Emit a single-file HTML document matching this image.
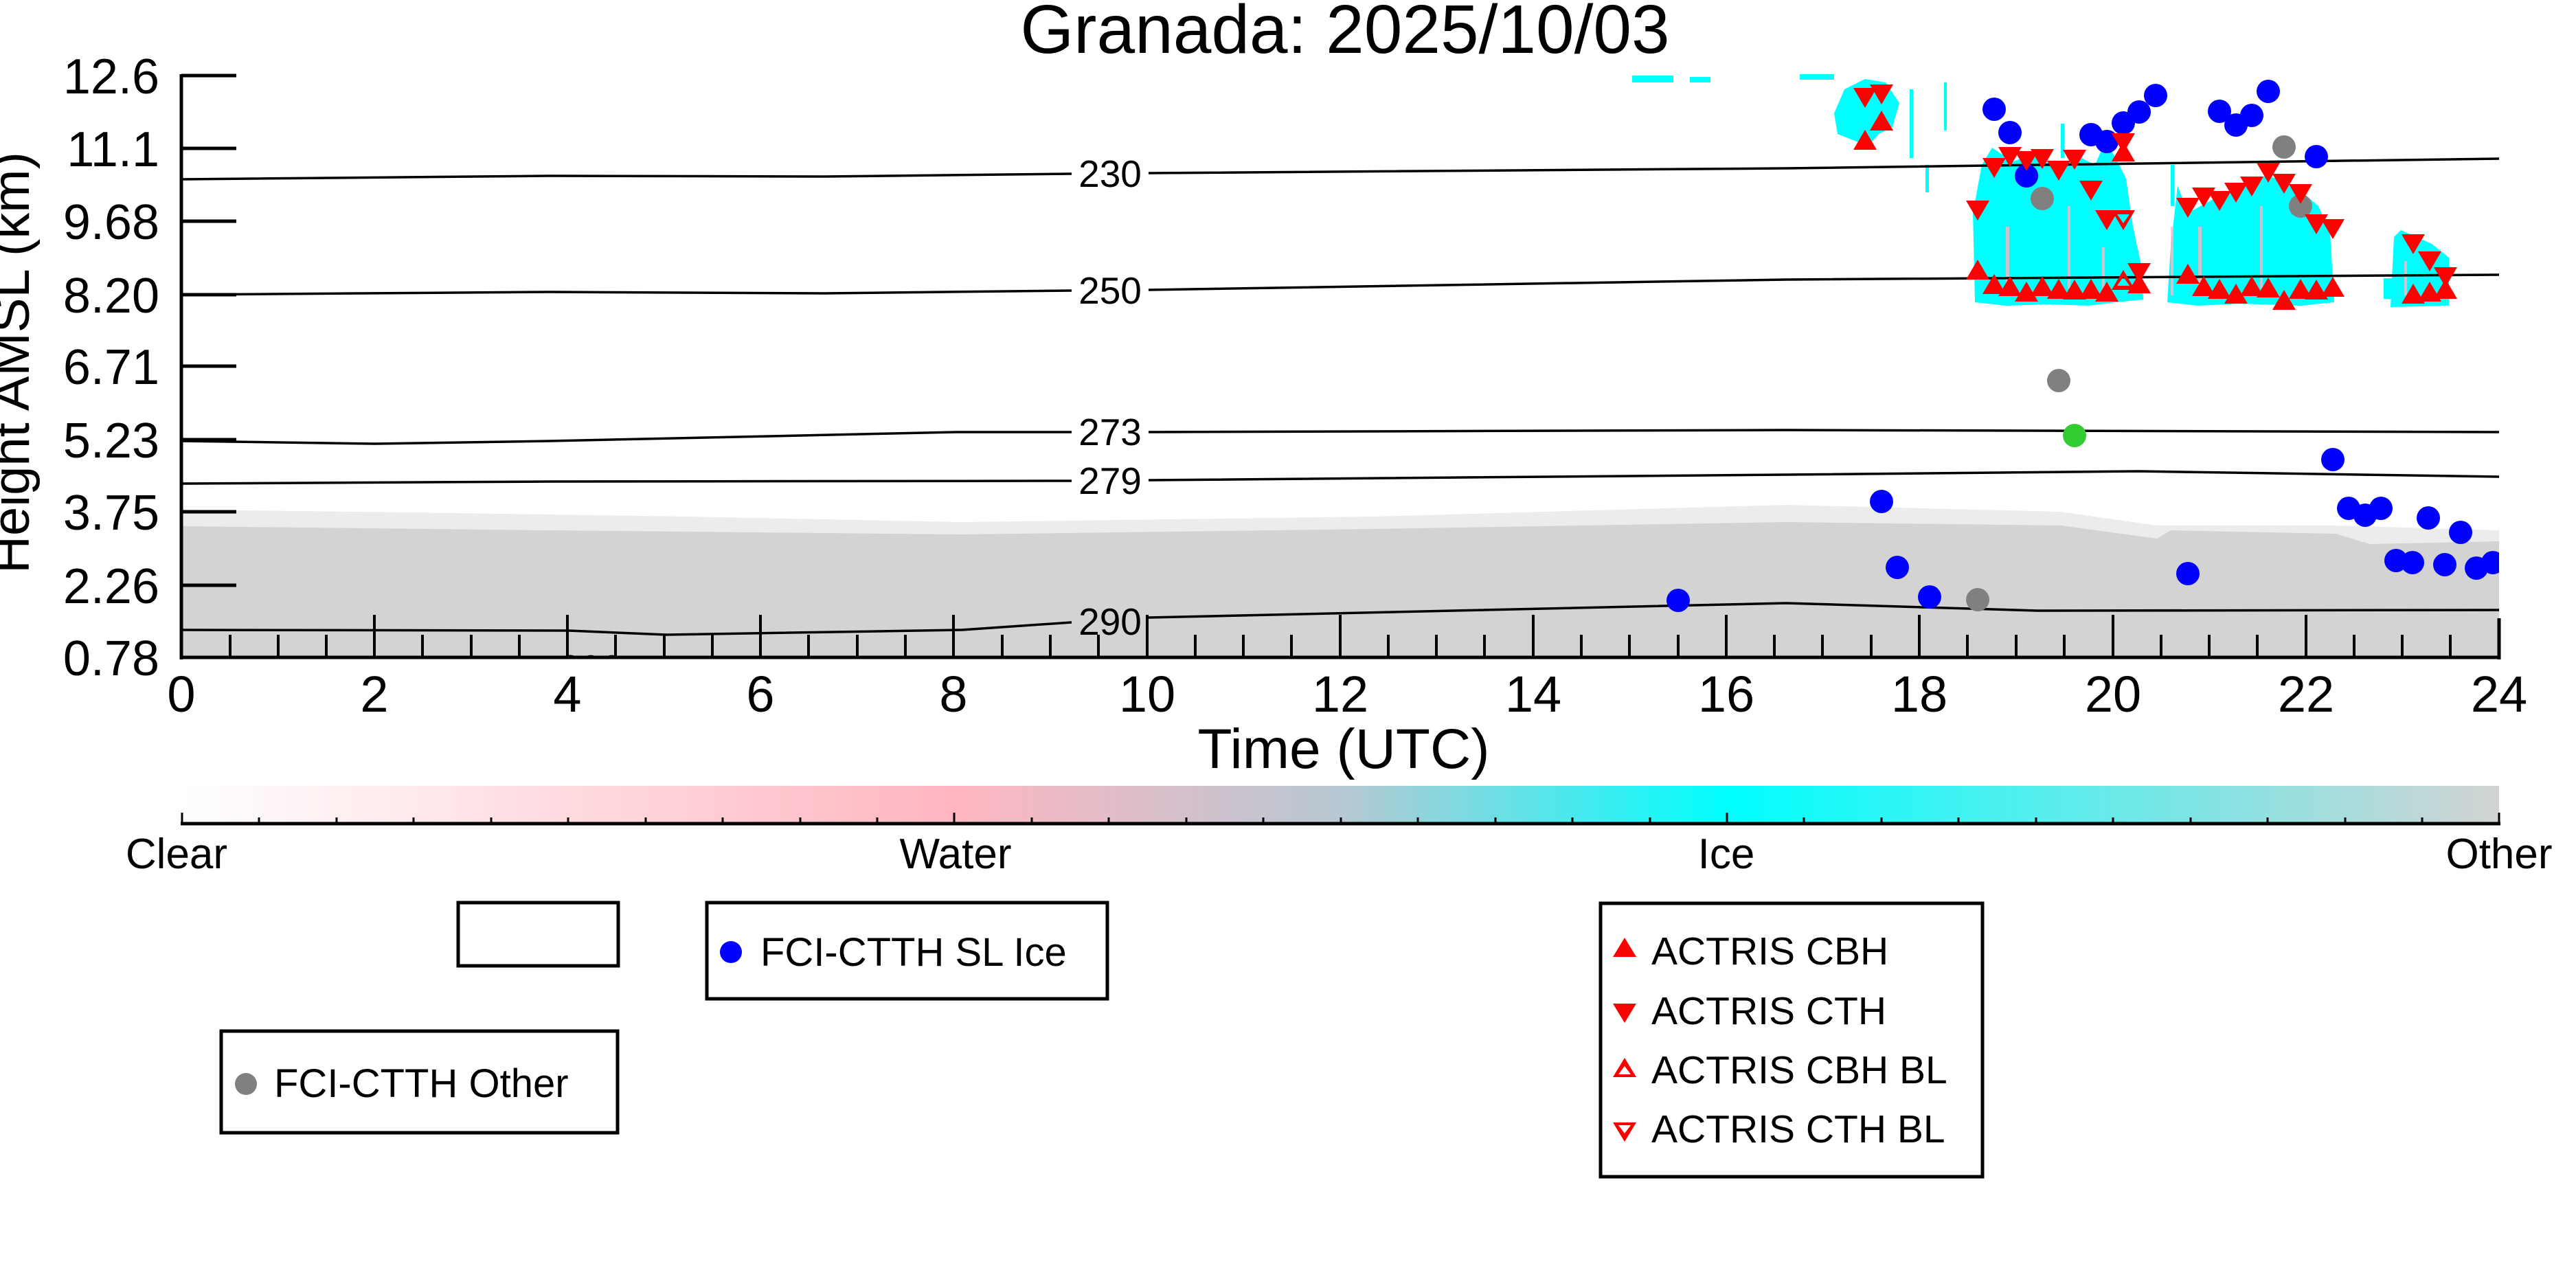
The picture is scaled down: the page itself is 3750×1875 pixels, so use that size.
<!DOCTYPE html>
<html><head><meta charset="utf-8"><style>
html,body{margin:0;padding:0;background:#fff;}
svg{display:block;font-family:"Liberation Sans","DejaVu Sans",sans-serif;}
</style></head><body>
<svg width="3750" height="1875" viewBox="0 0 3750 1875" xmlns="http://www.w3.org/2000/svg">
<defs>
<path id="up" d="M0,-17 L17,12 L-17,12Z" fill="#ff0000"/>
<path id="dn" d="M0,17 L17,-12 L-17,-12Z" fill="#ff0000"/>
<linearGradient id="cb" x1="0" x2="1" y1="0" y2="0">
<stop offset="0" stop-color="#ffffff"/>
<stop offset="0.333" stop-color="#ffb6c1"/>
<stop offset="0.5" stop-color="#b7c8d2"/>
<stop offset="0.667" stop-color="#00ffff"/>
<stop offset="1" stop-color="#d3d3d3"/>
</linearGradient>
<clipPath id="pc"><rect x="264" y="100" width="3374" height="857"/></clipPath>
</defs>
<rect width="3750" height="1875" fill="#fff"/>
<text x="1958" y="77" font-size="100" text-anchor="middle">Granada: 2025/10/03</text>

<g clip-path="url(#pc)">
<path d="M264,742 L600,746 L1000,752 L1400,760 L2000,752 L2600,735 L3000,745 L3140,765 L3400,765 L3638,772 L3638,957 L264,957Z" fill="#ececec"/>
<path d="M264,766 L800,772 L1400,778 L2000,770 L2600,760 L3000,765 L3140,784 L3160,772 L3400,777 L3450,792 L3638,788 L3638,957 L264,957Z" fill="#d3d3d3"/>
<g fill="#00ffff">
<polygon points="2685,130 2715,115 2745,120 2765,150 2755,185 2735,195 2720,212 2700,205 2675,195 2670,165"/>
<polygon points="2872,310 2885,240 2900,215 2930,235 2960,225 2990,240 3030,230 3050,240 3065,205 3080,230 3095,260 3105,330 3118,390 3120,436 3080,440 3040,445 2980,443 2920,445 2875,440"/>
<polygon points="3160,360 3170,270 3185,310 3240,280 3300,255 3340,270 3375,300 3392,340 3398,440 3350,445 3260,442 3200,445 3155,440"/>
<polygon points="3485,345 3495,335 3540,355 3565,375 3565,445 3480,447"/>
<rect x="2376" y="110" width="60" height="10"/>
<rect x="2460" y="112" width="30" height="8"/>
<rect x="2620" y="108" width="50" height="8"/>
<rect x="2780" y="130" width="5" height="100"/>
<rect x="2830" y="120" width="4" height="70"/>
<rect x="2803" y="240" width="5" height="40"/>
<rect x="3000" y="180" width="5" height="50"/>
<rect x="3160" y="240" width="5" height="60"/>
<rect x="3470" y="405" width="20" height="30"/>
</g>
<g fill="#ffb6c1" opacity="0.8">
<rect x="2920" y="330" width="5" height="100"/>
<rect x="3010" y="300" width="4" height="120"/>
<rect x="3060" y="360" width="4" height="70"/>
<rect x="3200" y="330" width="5" height="90"/>
<rect x="3290" y="300" width="4" height="120"/>
<rect x="3160" y="330" width="4" height="100"/>
<rect x="3500" y="380" width="4" height="50"/>
</g>
<g fill="none" stroke="#000" stroke-width="3.5">
<polyline points="264,261 800,256 1200,257 1560,253"/>
<polyline points="1672,252 2600,245 3638,231"/>
<polyline points="264,429 800,425 1200,427 1560,423"/>
<polyline points="1672,422 2600,407 3638,400"/>
<polyline points="264,642 546,646 800,642 1392,629 1560,629"/>
<polyline points="1672,629 2600,626 3638,629"/>
<polyline points="264,704 800,701 1560,700"/>
<polyline points="1672,699 2600,691 3113,686 3638,694"/>
<polyline points="264,917 828,918 970,924 1400,917 1560,906"/>
<polyline points="1672,899 2600,878 2966,889 3638,888"/>
</g>
<g font-size="55" text-anchor="middle">
<text x="1616" y="272">230</text>
<text x="1616" y="442">250</text>
<text x="1616" y="648">273</text>
<text x="1616" y="719">279</text>
<text x="1616" y="924">290</text>
<text x="860" y="992">290</text>
</g>
<g fill="#0000ff">
<circle cx="2903" cy="159" r="17"/><circle cx="2926" cy="193" r="17"/><circle cx="2950" cy="256" r="17"/>
<circle cx="3044" cy="196" r="17"/><circle cx="3067" cy="206" r="17"/><circle cx="3091" cy="179" r="17"/>
<circle cx="3114" cy="163" r="17"/><circle cx="3138" cy="139" r="17"/><circle cx="3231" cy="162" r="17"/>
<circle cx="3255" cy="182" r="17"/><circle cx="3278" cy="168" r="17"/><circle cx="3302" cy="133" r="17"/>
<circle cx="3372" cy="228" r="17"/><circle cx="3396" cy="669" r="17"/><circle cx="3419" cy="740" r="17"/>
<circle cx="3443" cy="750" r="17"/><circle cx="3466" cy="740" r="17"/><circle cx="3535" cy="754" r="17"/>
<circle cx="3582" cy="775" r="17"/><circle cx="3488" cy="816" r="17"/><circle cx="3512" cy="819" r="17"/>
<circle cx="3559" cy="822" r="17"/><circle cx="3605" cy="827" r="17"/><circle cx="3629" cy="819" r="17"/>
<circle cx="2739" cy="730" r="17"/><circle cx="2762" cy="826" r="17"/><circle cx="2809" cy="869" r="17"/>
<circle cx="3185" cy="835" r="17"/><circle cx="2443" cy="874" r="17"/>
</g>
<g fill="#808080">
<circle cx="2973" cy="289" r="17"/><circle cx="3325" cy="214" r="17"/><circle cx="3349" cy="300" r="17"/>
<circle cx="2997" cy="554" r="17"/><circle cx="2879" cy="873" r="17"/>
</g>
<circle cx="3020" cy="634" r="17" fill="#33cc33"/>
<use href="#up" x="2715" y="206"/><use href="#up" x="2739" y="178"/><use href="#up" x="2879" y="395"/>
<use href="#up" x="2903" y="416"/><use href="#up" x="2926" y="419"/><use href="#up" x="2950" y="427"/>
<use href="#up" x="2973" y="419"/><use href="#up" x="2997" y="423"/><use href="#up" x="3020" y="424"/>
<use href="#up" x="3044" y="423"/><use href="#up" x="3067" y="427"/><use href="#up" x="3114" y="415"/>
<use href="#up" x="3091" y="223"/>
<use href="#up" x="3185" y="401"/><use href="#up" x="3208" y="419"/><use href="#up" x="3231" y="423"/>
<use href="#up" x="3255" y="430"/><use href="#up" x="3278" y="419"/><use href="#up" x="3302" y="421"/>
<use href="#up" x="3325" y="439"/><use href="#up" x="3349" y="423"/><use href="#up" x="3372" y="424"/>
<use href="#up" x="3396" y="420"/><use href="#up" x="3513" y="430"/><use href="#up" x="3537" y="427"/>
<use href="#up" x="3560" y="423"/>
<use href="#dn" x="2715" y="140"/><use href="#dn" x="2739" y="135"/><use href="#dn" x="2903" y="242"/>
<use href="#dn" x="2926" y="226"/><use href="#dn" x="2950" y="232"/><use href="#dn" x="2973" y="229"/>
<use href="#dn" x="2997" y="246"/><use href="#dn" x="3020" y="230"/><use href="#dn" x="3044" y="275"/>
<use href="#dn" x="3067" y="318"/><use href="#dn" x="3091" y="206"/><use href="#dn" x="3114" y="395"/>
<use href="#dn" x="2879" y="304"/><use href="#dn" x="3185" y="300"/><use href="#dn" x="3208" y="285"/>
<use href="#dn" x="3231" y="290"/><use href="#dn" x="3255" y="278"/><use href="#dn" x="3278" y="269"/>
<use href="#dn" x="3302" y="249"/><use href="#dn" x="3325" y="265"/><use href="#dn" x="3349" y="280"/>
<use href="#dn" x="3372" y="324"/><use href="#dn" x="3396" y="331"/><use href="#dn" x="3513" y="353"/>
<use href="#dn" x="3537" y="378"/><use href="#dn" x="3560" y="401"/>
<path d="M3091,393 L3108,422 L3074,422Z M3091,403 L3100,416 L3082,416Z" fill="#ff0000" fill-rule="evenodd"/>
<path d="M3091,335 L3108,306 L3074,306Z M3091,325 L3100,312 L3082,312Z" fill="#ff0000" fill-rule="evenodd"/>
</g>

<g stroke="#000" stroke-width="5" fill="none">
<line x1="264" y1="108" x2="264" y2="960"/>
<line x1="262" y1="957" x2="3640" y2="957"/>
<line x1="3638" y1="900" x2="3638" y2="960"/>
</g>
<g stroke="#000" stroke-width="5">
<line x1="264" y1="110" x2="344" y2="110"/>
<line x1="264" y1="216" x2="344" y2="216"/>
<line x1="264" y1="322" x2="344" y2="322"/>
<line x1="264" y1="429" x2="344" y2="429"/>
<line x1="264" y1="533" x2="344" y2="533"/>
<line x1="264" y1="640" x2="344" y2="640"/>
<line x1="264" y1="745" x2="344" y2="745"/>
<line x1="264" y1="852" x2="344" y2="852"/>
</g>
<g stroke="#000" stroke-width="4">
<path d="M545,895V957 M826,895V957 M1107,895V957 M1388,895V957 M1670,895V957 M1951,895V957 M2232,895V957 M2513,895V957 M2794,895V957 M3076,895V957 M3357,895V957"/>
<path d="M335,924V957 M405,924V957 M475,924V957 M615,924V957 M686,924V957 M756,924V957 M896,924V957 M967,924V957 M1037,924V957 M1177,924V957 M1248,924V957 M1318,924V957 M1459,924V957 M1529,924V957 M1599,924V957 M1740,924V957 M1810,924V957 M1880,924V957 M2021,924V957 M2091,924V957 M2161,924V957 M2302,924V957 M2372,924V957 M2443,924V957 M2583,924V957 M2653,924V957 M2724,924V957 M2864,924V957 M2935,924V957 M3005,924V957 M3146,924V957 M3216,924V957 M3286,924V957 M3427,924V957 M3497,924V957 M3567,924V957"/>
</g>
<g font-size="72" text-anchor="end">
<text x="232" y="136">12.6</text>
<text x="232" y="242">11.1</text>
<text x="232" y="348">9.68</text>
<text x="232" y="455">8.20</text>
<text x="232" y="559">6.71</text>
<text x="232" y="666">5.23</text>
<text x="232" y="771">3.75</text>
<text x="232" y="878">2.26</text>
<text x="232" y="983">0.78</text>
</g>
<g font-size="74" text-anchor="middle">
<text x="264" y="1036">0</text><text x="545" y="1036">2</text><text x="826" y="1036">4</text>
<text x="1107" y="1036">6</text><text x="1388" y="1036">8</text><text x="1670" y="1036">10</text>
<text x="1951" y="1036">12</text><text x="2232" y="1036">14</text><text x="2513" y="1036">16</text>
<text x="2794" y="1036">18</text><text x="3076" y="1036">20</text><text x="3357" y="1036">22</text>
<text x="3638" y="1036">24</text>
</g>
<text x="1956" y="1118" font-size="82" text-anchor="middle">Time (UTC)</text>
<text transform="translate(42,528) rotate(-90)" font-size="76" text-anchor="middle">Height AMSL (km)</text>

<rect x="265" y="1144" width="3373" height="54" fill="url(#cb)"/>
<line x1="263" y1="1199" x2="3640" y2="1199" stroke="#000" stroke-width="5"/>
<g stroke="#000" stroke-width="3">
<path d="M265,1183V1199 M1389,1183V1199 M2514,1183V1199 M3638,1183V1199"/>
<path d="M377,1190V1199 M490,1190V1199 M602,1190V1199 M715,1190V1199 M827,1190V1199 M940,1190V1199 M1052,1190V1199 M1165,1190V1199 M1277,1190V1199 M1502,1190V1199 M1614,1190V1199 M1727,1190V1199 M1839,1190V1199 M1952,1190V1199 M2064,1190V1199 M2177,1190V1199 M2289,1190V1199 M2402,1190V1199 M2626,1190V1199 M2739,1190V1199 M2851,1190V1199 M2964,1190V1199 M3076,1190V1199 M3189,1190V1199 M3301,1190V1199 M3414,1190V1199 M3526,1190V1199"/>
</g>
<g font-size="62" text-anchor="middle">
<text x="257" y="1264">Clear</text>
<text x="1391" y="1264">Water</text>
<text x="2513" y="1264">Ice</text>
<text x="3638" y="1264">Other</text>
</g>

<g fill="none" stroke="#000" stroke-width="5">
<rect x="667" y="1314" width="233" height="92"/>
<rect x="1029" y="1314" width="583" height="140"/>
<rect x="322" y="1501" width="577" height="148"/>
<rect x="2330" y="1315" width="556" height="398"/>
</g>
<circle cx="1064" cy="1386" r="16" fill="#0000ff"/>
<text x="1107" y="1406" font-size="58">FCI-CTTH SL Ice</text>
<circle cx="358" cy="1578" r="16" fill="#808080"/>
<text x="399" y="1597" font-size="58">FCI-CTTH Other</text>
<path d="M2365,1365 L2382,1393 L2348,1393Z" fill="#ff0000"/>
<path d="M2365,1489 L2382,1461 L2348,1461Z" fill="#ff0000"/>
<path d="M2365,1540 L2382,1568 L2348,1568Z M2365,1552 L2374,1564 L2356,1564Z" fill="#ff0000" fill-rule="evenodd"/>
<path d="M2365,1662 L2382,1634 L2348,1634Z M2365,1650 L2374,1638 L2356,1638Z" fill="#ff0000" fill-rule="evenodd"/>
<g font-size="57">
<text x="2404" y="1404">ACTRIS CBH</text>
<text x="2404" y="1491">ACTRIS CTH</text>
<text x="2404" y="1577">ACTRIS CBH BL</text>
<text x="2404" y="1663">ACTRIS CTH BL</text>
</g>
</svg>
</body></html>
